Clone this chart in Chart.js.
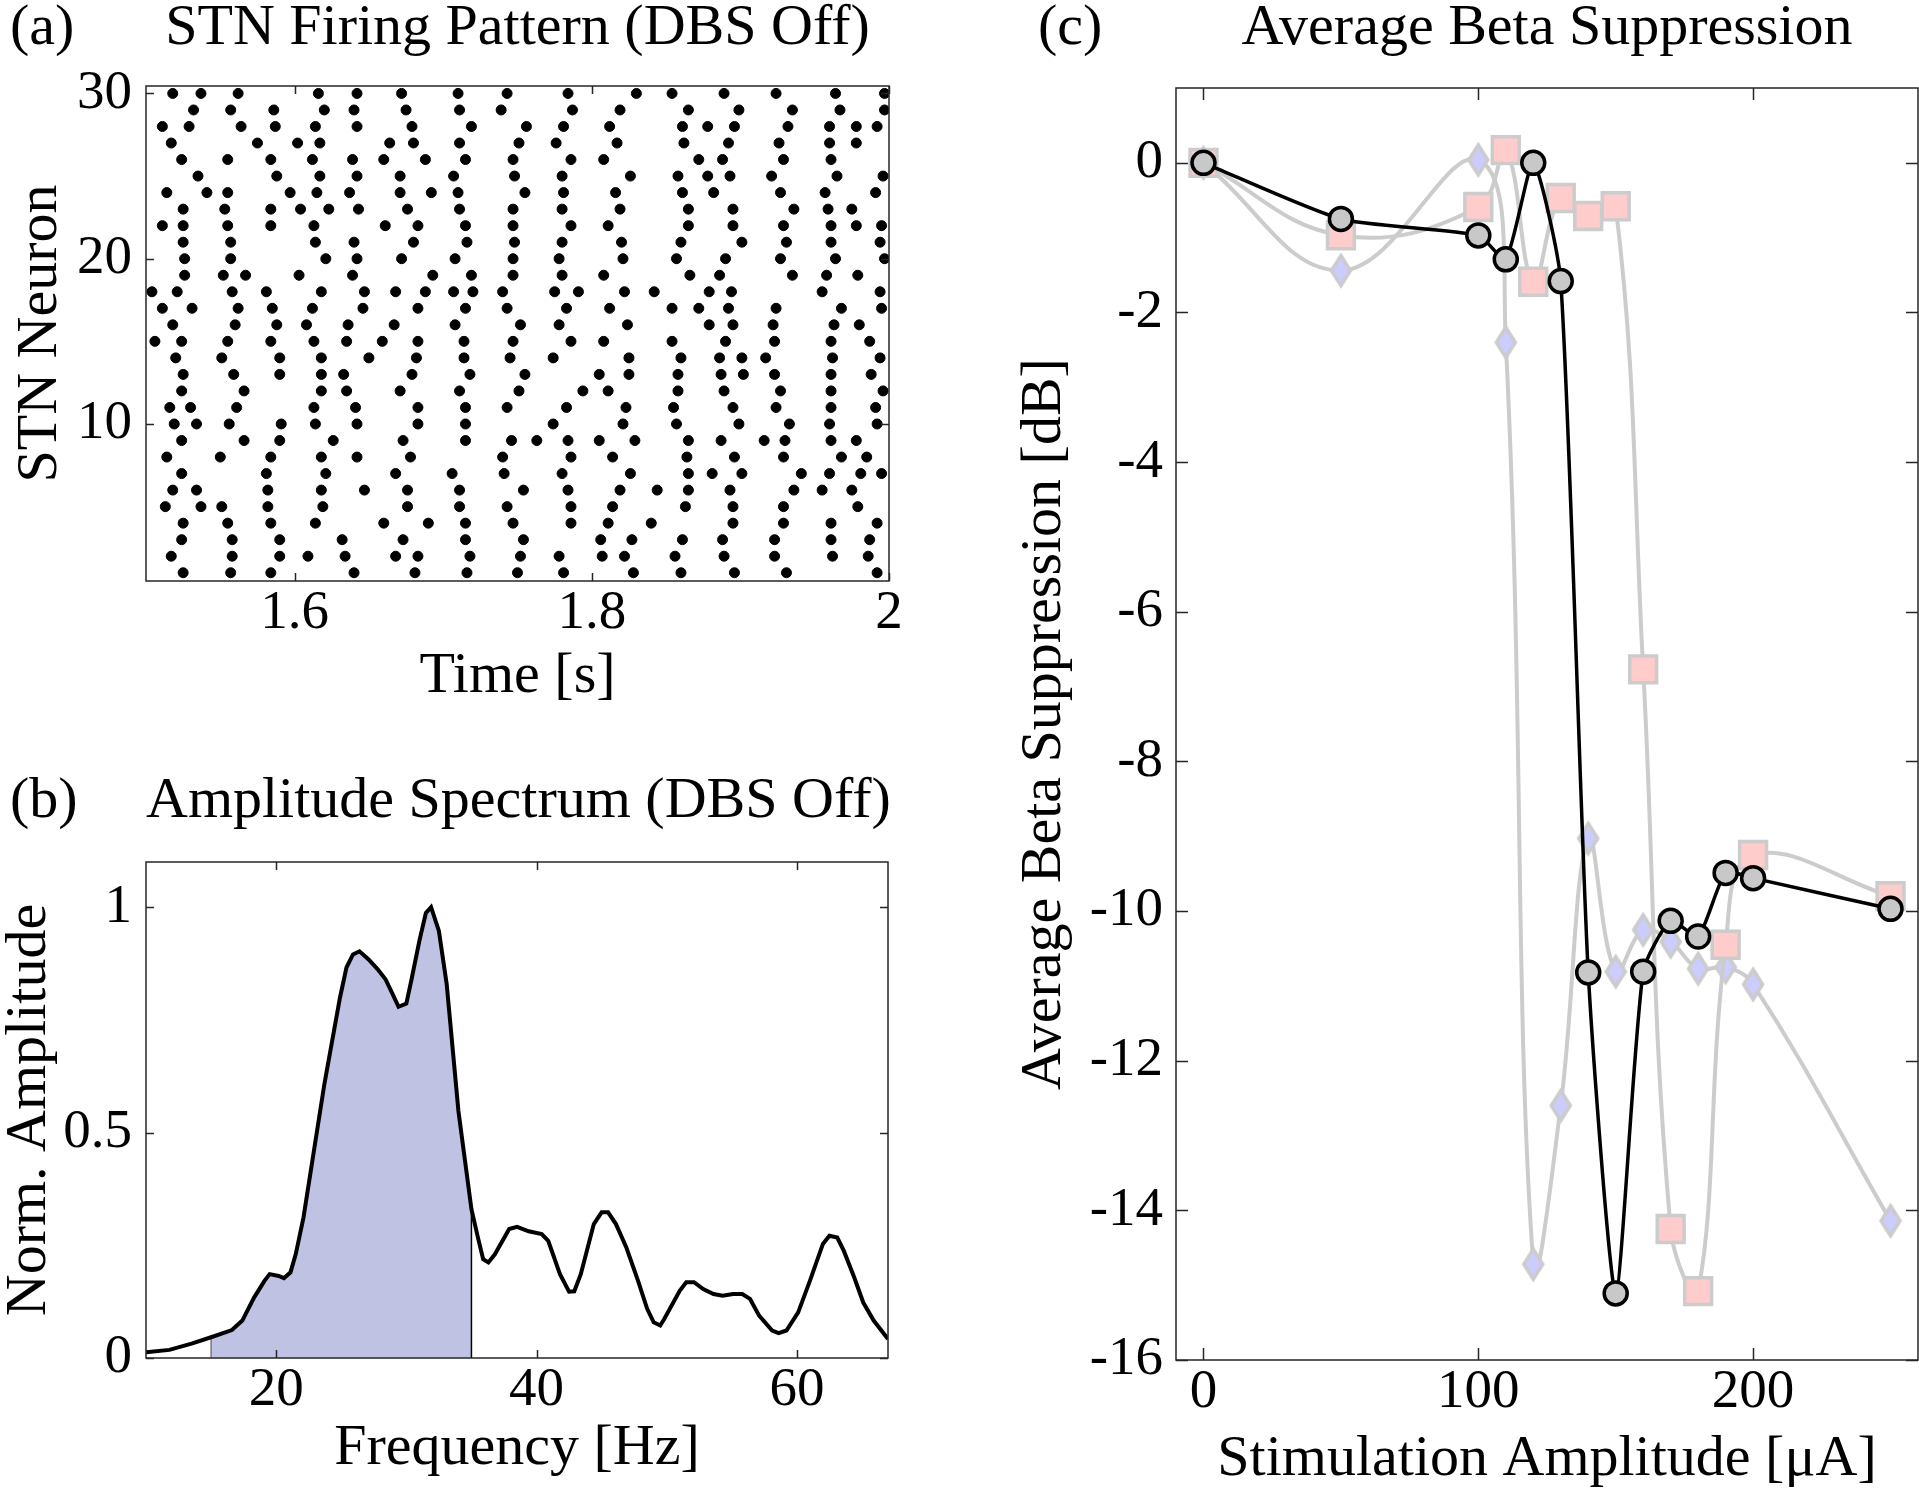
<!DOCTYPE html>
<html>
<head>
<meta charset="utf-8">
<script src="https://cdn.jsdelivr.net/npm/chart.js@4.4.1/dist/chart.umd.min.js"></script>
<style>
	body { margin: 0; width: 1919px; height: 1492px; background: #fff; position: relative; overflow: hidden;
		font-family: 'Liberation Serif', 'Times New Roman', serif; }
	canvas { position: absolute; }
	.lbl { position: absolute; font-size: 58px; line-height: 58px; white-space: nowrap; color: #000; }
	.ttl { text-align: center; }
</style>
</head>
<body>
<div class="lbl" style="left:10px; top:-4px">(a)</div>
<div class="lbl ttl" style="left:146px; width:743px; top:-4px">STN Firing Pattern (DBS Off)</div>
<div class="lbl" style="left:10px; top:769px">(b)</div>
<div class="lbl ttl" style="left:146px; width:742px; top:769px">Amplitude Spectrum (DBS Off)</div>
<div class="lbl" style="left:1038px; top:-4px">(c)</div>
<div class="lbl ttl" style="left:1176px; width:742px; top:-4px">Average Beta Suppression</div>

<canvas id="rasterChart" width="950" height="730" style="left:0; top:0"></canvas>
<canvas id="spectrumChart" width="950" height="762" style="left:0; top:730px"></canvas>
<canvas id="betaChart" width="969" height="1492" style="left:950px; top:0"></canvas>

<script>
// (a) 스파이크 시각 [s], 인덱스 0 = 뉴런 1
const spikeTimes = [
	[1.525, 1.557, 1.584, 1.640, 1.681, 1.716, 1.750, 1.781, 1.828, 1.860, 1.896, 1.931, 1.992],
	[1.517, 1.558, 1.590, 1.609, 1.634, 1.668, 1.683, 1.718, 1.752, 1.778, 1.807, 1.822, 1.856, 1.889, 1.923, 1.962, 1.986],
	[1.524, 1.558, 1.590, 1.632, 1.673, 1.715, 1.754, 1.806, 1.827, 1.861, 1.888, 1.923, 1.961, 1.987],
	[1.525, 1.555, 1.584, 1.614, 1.660, 1.690, 1.715, 1.747, 1.786, 1.811, 1.840, 1.895, 1.929, 1.961, 1.992],
	[1.513, 1.537, 1.551, 1.582, 1.619, 1.676, 1.711, 1.743, 1.786, 1.814, 1.863, 1.895, 1.929, 1.979],
	[1.518, 1.534, 1.582, 1.618, 1.647, 1.676, 1.711, 1.754, 1.784, 1.819, 1.844, 1.865, 1.893, 1.936, 1.955, 1.975],
	[1.524, 1.581, 1.621, 1.668, 1.706, 1.741, 1.780, 1.826, 1.865, 1.881, 1.901, 1.941, 1.960, 1.981, 1.995],
	[1.514, 1.550, 1.584, 1.618, 1.642, 1.678, 1.740, 1.786, 1.814, 1.864, 1.896, 1.929, 1.968, 1.985],
	[1.524, 1.566, 1.590, 1.626, 1.673, 1.715, 1.746, 1.763, 1.784, 1.805, 1.829, 1.865, 1.887, 1.916, 1.930, 1.961, 1.978],
	[1.519, 1.534, 1.556, 1.591, 1.614, 1.642, 1.683, 1.715, 1.774, 1.821, 1.857, 1.899, 1.933, 1.960, 1.992],
	[1.516, 1.530, 1.561, 1.613, 1.641, 1.683, 1.715, 1.743, 1.783, 1.823, 1.855, 1.895, 1.924, 1.961, 1.991],
	[1.524, 1.566, 1.618, 1.635, 1.671, 1.711, 1.751, 1.794, 1.811, 1.858, 1.889, 1.927, 1.961, 1.996],
	[1.525, 1.559, 1.590, 1.618, 1.633, 1.679, 1.718, 1.755, 1.805, 1.825, 1.858, 1.887, 1.902, 1.923, 1.961, 1.988],
	[1.520, 1.551, 1.590, 1.618, 1.650, 1.682, 1.714, 1.745, 1.774, 1.825, 1.860, 1.886, 1.901, 1.917, 1.962, 1.994],
	[1.506, 1.524, 1.555, 1.584, 1.613, 1.635, 1.659, 1.683, 1.714, 1.747, 1.786, 1.808, 1.854, 1.890, 1.923, 1.961, 1.987],
	[1.518, 1.560, 1.588, 1.608, 1.636, 1.667, 1.708, 1.752, 1.778, 1.824, 1.879, 1.895, 1.922, 1.963, 1.980],
	[1.511, 1.531, 1.562, 1.585, 1.612, 1.646, 1.683, 1.715, 1.743, 1.783, 1.812, 1.854, 1.872, 1.892, 1.924, 1.968, 1.995],
	[1.504, 1.521, 1.558, 1.581, 1.618, 1.647, 1.668, 1.688, 1.707, 1.720, 1.740, 1.775, 1.791, 1.822, 1.842, 1.879, 1.894, 1.955, 1.994],
	[1.526, 1.552, 1.567, 1.603, 1.639, 1.693, 1.719, 1.747, 1.780, 1.808, 1.866, 1.886, 1.935, 1.958, 1.979],
	[1.526, 1.557, 1.621, 1.642, 1.672, 1.708, 1.747, 1.778, 1.821, 1.857, 1.890, 1.927, 1.964, 1.997],
	[1.525, 1.557, 1.614, 1.640, 1.680, 1.716, 1.748, 1.780, 1.820, 1.860, 1.901, 1.931, 1.961, 1.994],
	[1.511, 1.525, 1.555, 1.584, 1.613, 1.661, 1.683, 1.715, 1.747, 1.786, 1.811, 1.865, 1.895, 1.929, 1.961, 1.978, 1.995],
	[1.525, 1.553, 1.584, 1.604, 1.623, 1.643, 1.676, 1.711, 1.747, 1.780, 1.819, 1.865, 1.895, 1.936, 1.959, 1.975],
	[1.514, 1.541, 1.555, 1.597, 1.615, 1.637, 1.671, 1.692, 1.710, 1.755, 1.781, 1.816, 1.861, 1.882, 1.927, 1.957, 1.991],
	[1.535, 1.588, 1.617, 1.642, 1.671, 1.707, 1.748, 1.780, 1.826, 1.858, 1.878, 1.893, 1.921, 1.965, 1.996],
	[1.524, 1.555, 1.584, 1.612, 1.639, 1.660, 1.688, 1.715, 1.747, 1.786, 1.808, 1.872, 1.888, 1.929, 1.961],
	[1.517, 1.575, 1.602, 1.617, 1.664, 1.680, 1.711, 1.751, 1.776, 1.817, 1.862, 1.892, 1.926, 1.960, 1.978],
	[1.511, 1.529, 1.564, 1.587, 1.614, 1.642, 1.679, 1.719, 1.756, 1.781, 1.812, 1.861, 1.878, 1.896, 1.932, 1.960, 1.978, 1.992],
	[1.532, 1.557, 1.586, 1.620, 1.640, 1.675, 1.711, 1.739, 1.787, 1.819, 1.865, 1.899, 1.935, 1.967, 1.997],
	[1.518, 1.537, 1.562, 1.616, 1.642, 1.672, 1.710, 1.743, 1.784, 1.830, 1.854, 1.889, 1.924, 1.964, 1.997]
];
const timeTicks = [1.6, 1.8, 2];
const neuronTicks = [10, 20, 30];

// (b) 진폭 스펙트럼
const specFreq = [10, 11.8, 13.5, 15, 16.6, 17.4, 18.3, 19.1, 19.5, 20.2, 20.6, 21.1, 21.5, 22.1, 23.7, 24.9, 25.4, 25.9, 26.4, 27.1,
	27.8, 28.4, 28.9, 29.4, 30.0, 30.4, 31.0, 31.5, 31.9, 32.5, 33.1, 34.0, 35, 35.5, 35.9, 36.3, 36.8, 37.9, 38.5, 39.4,
	40.4, 40.9, 41.8, 42.5, 42.9, 43.4, 44.4, 45.0, 45.5, 46.1, 46.9, 47.8, 48.5, 49.0, 49.5, 49.8, 51.0, 51.5, 52.1, 52.8,
	53.6, 54.3, 55.1, 55.8, 56.4, 57.1, 58.1, 58.6, 59.2, 60.1, 61.0, 62.0, 62.5, 63.1, 63.6, 64.4, 65.1, 65.9, 67.0];
const specAmp = [0.013, 0.018, 0.032, 0.046, 0.062, 0.083, 0.134, 0.171, 0.186, 0.182, 0.177, 0.190, 0.230, 0.312, 0.607, 0.799, 0.866, 0.895, 0.902, 0.884,
	0.862, 0.840, 0.810, 0.779, 0.786, 0.840, 0.925, 0.987, 1.0, 0.947, 0.829, 0.548, 0.33, 0.267, 0.219, 0.212, 0.230, 0.286, 0.291, 0.281,
	0.275, 0.260, 0.186, 0.147, 0.148, 0.186, 0.297, 0.323, 0.323, 0.297, 0.245, 0.171, 0.109, 0.079, 0.072, 0.086, 0.149, 0.168, 0.168, 0.153,
	0.142, 0.138, 0.142, 0.142, 0.131, 0.094, 0.061, 0.055, 0.061, 0.101, 0.171, 0.253, 0.271, 0.267, 0.238, 0.179, 0.123, 0.083, 0.042];
const betaBand = [15, 35];
const freqTicks = [20, 40, 60];
const normTicks = [0, 0.5, 1];

// (c) 자극 진폭별 평균 베타 억제
const stimAmp = [0, 50, 100, 110, 120, 130, 140, 150, 160, 170, 180, 190, 200, 250];
const betaMean = [0, -0.75, -0.97, -1.29, 0.0, -1.58, -10.82, -15.11, -10.81, -10.13, -10.34, -9.49, -9.56, -9.97];
const betaSquare = [0, -0.97, -0.59, 0.17, -1.59, -0.47, -0.71, -0.58, -6.77, -14.25, -15.08, -10.45, -9.25, -9.80];
const betaDiamond = [0, -1.44, 0.04, -2.40, -14.72, -12.60, -9.03, -10.81, -10.25, -10.41, -10.77, -10.75, -10.98, -14.14];
const stimTicks = [0, 100, 200];
const dbTicks = [0, -2, -4, -6, -8, -10, -12, -14, -16];

const serif = "'Liberation Serif', 'Times New Roman', serif";
Chart.defaults.font.family = serif;
Chart.defaults.color = '#000';

const tickFont = { family: serif, size: 55 };
const labelFont = { family: serif, size: 58, lineHeight: 1 };

// 안쪽 눈금 + 테두리 (MATLAB 스타일)
const boxTicks = {
	id: 'boxTicks',
	afterDraw(chart, args, opts) {
		const { ctx, chartArea: a, scales } = chart;
		const len = opts.len || 8;
		ctx.save();
		ctx.strokeStyle = '#262626';
		ctx.lineWidth = 1.5;
		ctx.beginPath();
		scales.x.ticks.forEach(t => {
			const px = Math.round(scales.x.getPixelForValue(t.value)) + 0.5;
			ctx.moveTo(px, a.bottom); ctx.lineTo(px, a.bottom - len);
			ctx.moveTo(px, a.top); ctx.lineTo(px, a.top + len);
		});
		scales.y.ticks.forEach(t => {
			const py = Math.round(scales.y.getPixelForValue(t.value)) + 0.5;
			ctx.moveTo(a.left, py); ctx.lineTo(a.left + len, py);
			ctx.moveTo(a.right, py); ctx.lineTo(a.right - len, py);
		});
		ctx.stroke();
		ctx.strokeRect(a.left, a.top, a.right - a.left, a.bottom - a.top);
		ctx.restore();
	}
};

function makeAxis(min, max, tickValues, title, size, titlePad, tickPad, horizontal) {
	return {
		type: 'linear',
		min: min,
		max: max,
		afterBuildTicks: s => { s.ticks = tickValues.map(v => ({ value: v })); },
		afterFit: s => {
			if (horizontal) {
				s.height = size;
				s.paddingLeft = 0; s.paddingRight = 0;
			} else {
				s.width = size;
				s.paddingTop = 0; s.paddingBottom = 0;
			}
		},
		grid: { display: false, drawTicks: false },
		border: { display: false },
		ticks: {
			font: tickFont, color: '#000', padding: tickPad,
			maxRotation: 0, autoSkip: false,
			callback: v => String(Math.round(v * 10) / 10)
		},
		title: { display: true, text: title, font: labelFont, color: '#000', padding: titlePad }
	};
}

function baseOptions(padding, xAxis, yAxis, tickLen) {
	return {
		responsive: false,
		animation: false,
		events: [],
		layout: { padding: padding, autoPadding: false },
		plugins: { legend: { display: false }, tooltip: { enabled: false }, boxTicks: { len: tickLen } },
		scales: { x: xAxis, y: yAxis }
	};
}

// (a) 래스터
const rasterPoints = [];
spikeTimes.forEach((row, i) => row.forEach(t => rasterPoints.push({ x: t, y: i + 1 })));

new Chart(document.getElementById('rasterChart'), {
	type: 'scatter',
	data: {
		datasets: [{
			data: rasterPoints,
			pointRadius: 5,
			pointBorderWidth: 1,
			pointBackgroundColor: '#000',
			pointBorderColor: '#000'
		}]
	},
	options: baseOptions(
		{ top: 86, right: 61, left: 0, bottom: 0 },
		makeAxis(1.5, 2.0, timeTicks, 'Time [s]', 149, { bottom: 24 }, 0, true),
		makeAxis(0.5, 30.45, neuronTicks, 'STN Neuron', 146, { top: 12 }, 14, false),
		8
	),
	plugins: [boxTicks]
});

// (b) 스펙트럼
const specPoints = specFreq.map((f, i) => ({ x: f, y: specAmp[i] }));
const bandPoints = specPoints.filter(p => p.x >= betaBand[0] && p.x <= betaBand[1]);
const bandLeft = bandPoints[0];
const bandRight = bandPoints[bandPoints.length - 1];

new Chart(document.getElementById('spectrumChart'), {
	type: 'line',
	data: {
		datasets: [
			{ data: specPoints, borderColor: '#000', borderWidth: 4, pointRadius: 0, tension: 0, fill: false },
			{ data: [{ x: bandRight.x, y: 0 }, bandRight], borderColor: '#000', borderWidth: 1.5, pointRadius: 0, fill: false },
			{ data: [{ x: bandLeft.x, y: 0 }, bandLeft], borderColor: '#777', borderWidth: 1.5, pointRadius: 0, fill: false },
			{ data: bandPoints, borderWidth: 0, borderColor: 'rgba(0,0,0,0)', pointRadius: 0, tension: 0,
				fill: 'origin', backgroundColor: 'rgb(191,194,227)' }
		]
	},
	options: baseOptions(
		{ top: 132, right: 62, left: 0, bottom: 0 },
		makeAxis(10, 67, freqTicks, 'Frequency [Hz]', 134, { bottom: 14 }, 0, true),
		makeAxis(0, 1.1, normTicks, 'Norm. Amplitude', 146, { top: 1 }, 14, false),
		8
	),
	plugins: [boxTicks]
});

// (c) 평균 베타 억제
function diamondMarker() {
	const c = document.createElement('canvas');
	c.width = 26; c.height = 38;
	const g = c.getContext('2d');
	g.beginPath();
	g.moveTo(13, 4); g.lineTo(22.5, 19); g.lineTo(13, 34); g.lineTo(3.5, 19); g.closePath();
	g.fillStyle = '#ccccff'; g.fill();
	g.lineWidth = 3.5; g.strokeStyle = '#cccccc'; g.stroke();
	return c;
}

const toPoints = ys => stimAmp.map((x, i) => ({ x: x, y: ys[i] }));

new Chart(document.getElementById('betaChart'), {
	type: 'line',
	data: {
		datasets: [
			{
				data: toPoints(betaMean), borderColor: '#000', borderWidth: 3.5, tension: 0.2,
				pointRadius: 11.5, pointBackgroundColor: '#c8c8c8', pointBorderColor: '#000', pointBorderWidth: 3.5
			},
			{
				data: toPoints(betaSquare), borderColor: '#cccccc', borderWidth: 4, tension: 0.4,
				pointStyle: 'rect', pointRadius: 19, pointBackgroundColor: '#ffcccc', pointBorderColor: '#cccccc', pointBorderWidth: 3.5
			},
			{
				data: toPoints(betaDiamond), borderColor: '#cccccc', borderWidth: 4, tension: 0.4,
				pointStyle: diamondMarker(), pointRadius: 13
			}
		]
	},
	options: baseOptions(
		{ top: 88, right: 1, left: 0, bottom: 0 },
		makeAxis(-10, 260, stimTicks, 'Stimulation Amplitude [μA]', 132, { bottom: 3 }, 0, true),
		makeAxis(-16, 1, dbTicks, 'Average Beta Suppression [dB]', 226, { top: 66 }, 13, false),
		12
	),
	plugins: [boxTicks]
});
</script>
</body>
</html>
